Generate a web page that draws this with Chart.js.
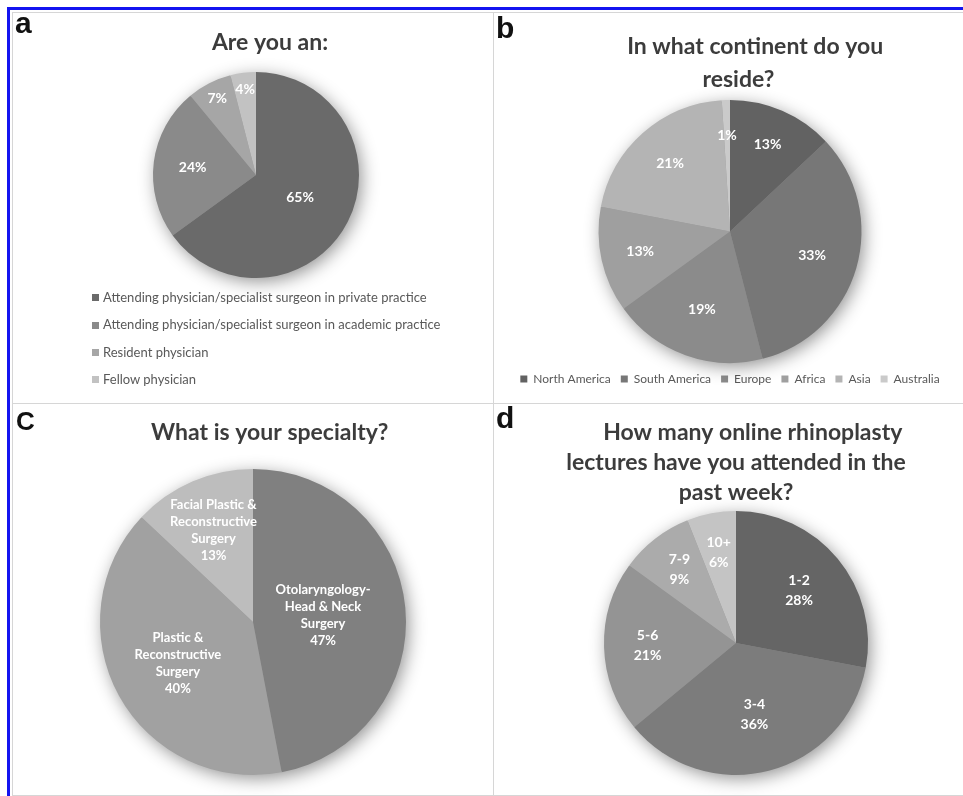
<!DOCTYPE html>
<html>
<head>
<meta charset="utf-8">
<script src="https://cdn.jsdelivr.net/npm/chart.js@4.4.1/dist/chart.umd.min.js"></script>
<style>
  body { margin: 0; background: #fff; width: 963px; height: 796px; position: relative; overflow: hidden; font-family: Lato, sans-serif; }
  #frame { position: absolute; left: 7px; top: 7px; width: 956px; height: 789px; border-left: 3px solid #1414f0; border-top: 3px solid #1414f0; box-sizing: border-box; }
  .panel { position: absolute; border: 1px solid #d6d6d6; box-sizing: border-box; background: #fff; }
  canvas { position: absolute; }
  .letter { position: absolute; font: bold 30px "Liberation Sans", Arial, sans-serif; color: #111; line-height: 30px; }
  #legendA { position: absolute; left: 92px; top: 284px; font-size: 13px; color: #595959; }
  #legendA .item { height: 27.3px; line-height: 27.3px; white-space: nowrap; }
  #legendA .box { display: inline-block; width: 7px; height: 7px; margin-right: 4px; vertical-align: middle; position: relative; top: -1px; }
</style>
</head>
<body>
<div id="frame"></div>
<div class="panel" style="left:12px; top:12px; width:482px; height:392px"></div>
<div class="panel" style="left:493px; top:12px; width:480px; height:392px"></div>
<div class="panel" style="left:12px; top:403px; width:482px; height:393px"></div>
<div class="panel" style="left:493px; top:403px; width:480px; height:393px"></div>

<canvas id="chartA" width="478" height="388" style="left:14px; top:14px"></canvas>
<canvas id="chartB" width="469" height="388" style="left:494px; top:14px"></canvas>
<canvas id="chartC" width="478" height="391" style="left:14px; top:404px"></canvas>
<canvas id="chartD" width="469" height="391" style="left:494px; top:404px"></canvas>
<div id="legendA"></div>

<div class="letter" style="left:15px; top:8px">a</div>
<div class="letter" style="left:496px; top:13px">b</div>
<div class="letter" style="left:16px; top:408px; font-size:26px; line-height:26px">C</div>
<div class="letter" style="left:496px; top:403px">d</div>

<script>
// a - Are you an:
const rolesLabels = [
  'Attending physician/specialist surgeon in private practice',
  'Attending physician/specialist surgeon in academic practice',
  'Resident physician',
  'Fellow physician'
];
const rolesValues = [65, 24, 7, 4];

// b - continente
const continentLabels = ['North America', 'South America', 'Europe', 'Africa', 'Asia', 'Australia'];
const continentValues = [13, 33, 19, 13, 21, 1];

// c - especialidade (\n = quebra de linha no rótulo)
const specialtyLabels = [
  'Otolaryngology-\nHead & Neck\nSurgery',
  'Plastic &\nReconstructive\nSurgery',
  'Facial Plastic &\nReconstructive\nSurgery'
];
const specialtyValues = [47, 40, 13];

// d - palestras
const lectureLabels = ['1-2', '3-4', '5-6', '7-9', '10+'];
const lectureValues = [28, 36, 21, 9, 6];

const rolesColors = ['#6a6a6a', '#8a8a8a', '#a6a6a6', '#c2c2c2'];
const continentColors = ['#626262', '#777777', '#8b8b8b', '#9f9f9f', '#b4b4b4', '#cacaca'];
const specialtyColors = ['#808080', '#a1a1a1', '#bdbdbd'];
const lectureColors = ['#656565', '#7c7c7c', '#949494', '#ababab', '#c4c4c4'];

// sombra suave atrás da pizza
const pieShadow = {
  id: 'pieShadow',
  beforeDatasetsDraw(chart) {
    const arc = chart.getDatasetMeta(0).data[0];
    if (!arc) return;
    const ctx = chart.ctx;
    ctx.save();
    ctx.shadowColor = 'rgba(0,0,0,0.45)';
    ctx.shadowBlur = 18;
    ctx.shadowOffsetX = 3;
    ctx.shadowOffsetY = 4;
    ctx.fillStyle = '#888';
    ctx.beginPath();
    ctx.arc(arc.x, arc.y, arc.outerRadius - 1, 0, Math.PI * 2);
    ctx.fill();
    ctx.restore();
  }
};

// rótulos brancos dentro das fatias
const sliceLabels = {
  id: 'sliceLabels',
  afterDatasetsDraw(chart, args, opts) {
    const ctx = chart.ctx;
    const meta = chart.getDatasetMeta(0);
    const data = chart.data.datasets[0].data;
    ctx.save();
    ctx.fillStyle = '#fff';
    ctx.font = 'bold ' + opts.size + 'px Lato';
    ctx.textAlign = 'center';
    ctx.textBaseline = 'middle';
    meta.data.forEach((arc, i) => {
      const mid = (arc.startAngle + arc.endAngle) / 2;
      const r = arc.outerRadius * opts.radius[i];
      const x = arc.x + Math.cos(mid) * r;
      const y = arc.y + Math.sin(mid) * r;
      let lines = [data[i] + '%'];
      if (opts.withName) lines = chart.data.labels[i].split('\n').concat(lines);
      const top = y - (lines.length - 1) * opts.lineHeight / 2;
      lines.forEach((t, k) => ctx.fillText(t, x, top + k * opts.lineHeight));
    });
    ctx.restore();
  }
};

function makePie(id, labels, values, colors, opts) {
  return new Chart(document.getElementById(id), {
    type: 'pie',
    data: {
      labels: labels,
      datasets: [{
        data: values,
        backgroundColor: colors,
        borderWidth: 0,
        clip: false
      }]
    },
    options: {
      responsive: false,
      animation: false,
      layout: { padding: opts.padding },
      plugins: {
        tooltip: { enabled: false },
        title: {
          display: true,
          text: opts.title,
          color: '#3c3c3c',
          font: { family: 'Lato', weight: 'bold', size: opts.titleSize, lineHeight: opts.titleLine },
          padding: opts.titlePadding
        },
        legend: opts.legend || { display: false },
        sliceLabels: opts.labels
      }
    },
    plugins: [pieShadow, sliceLabels]
  });
}

makePie('chartA', rolesLabels, rolesValues, rolesColors, {
  padding: { top: 0, bottom: 124, left: 6, right: 0 },
  title: '     Are you an:',
  titleSize: 23, titleLine: 1.2,
  titlePadding: { top: 15.2, bottom: 15.2 },
  labels: { size: 14, lineHeight: 16, radius: [0.48, 0.62, 0.83, 0.84] }
});

makePie('chartB', continentLabels, continentValues, continentColors, {
  padding: { top: 0, bottom: 7, left: 3, right: 0 },
  title: ['         In what continent do you', '   reside?'],
  titleSize: 23, titleLine: 1.435,
  titlePadding: { top: 16.5, bottom: 3.5 },
  legend: {
    display: true,
    position: 'bottom',
    labels: {
      boxWidth: 7, boxHeight: 7, padding: 10,
      color: '#595959',
      font: { family: 'Lato', size: 12 }
    }
  },
  labels: { size: 14, lineHeight: 16, radius: [0.72, 0.65, 0.63, 0.7, 0.69, 0.73] }
});

makePie('chartC', specialtyLabels, specialtyValues, specialtyColors, {
  padding: { top: 0, bottom: 20, left: 0, right: 0 },
  title: '      What is your specialty?',
  titleSize: 23, titleLine: 1.2,
  titlePadding: { top: 15.2, bottom: 22.2 },
  labels: { size: 13, lineHeight: 17, withName: true, radius: [0.46, 0.56, 0.65] }
});

makePie('chartD', lectureLabels, lectureValues, lectureColors, {
  padding: { top: 0, bottom: 20, left: 15, right: 0 },
  title: ['      How many online rhinoplasty', 'lectures have you attended in the', 'past week?'],
  titleSize: 23, titleLine: 1.304,
  titlePadding: { top: 14, bottom: 3 },
  labels: { size: 14, lineHeight: 20, withName: true, radius: [0.62, 0.56, 0.67, 0.7, 0.7] }
});

// legenda do painel a, montada a partir dos mesmos arrays
const legendA = document.getElementById('legendA');
rolesLabels.forEach((t, i) => {
  legendA.insertAdjacentHTML('beforeend',
    '<div class="item"><span class="box" style="background:' + rolesColors[i] + '"></span>' + t + '</div>');
});
</script>
</body>
</html>
